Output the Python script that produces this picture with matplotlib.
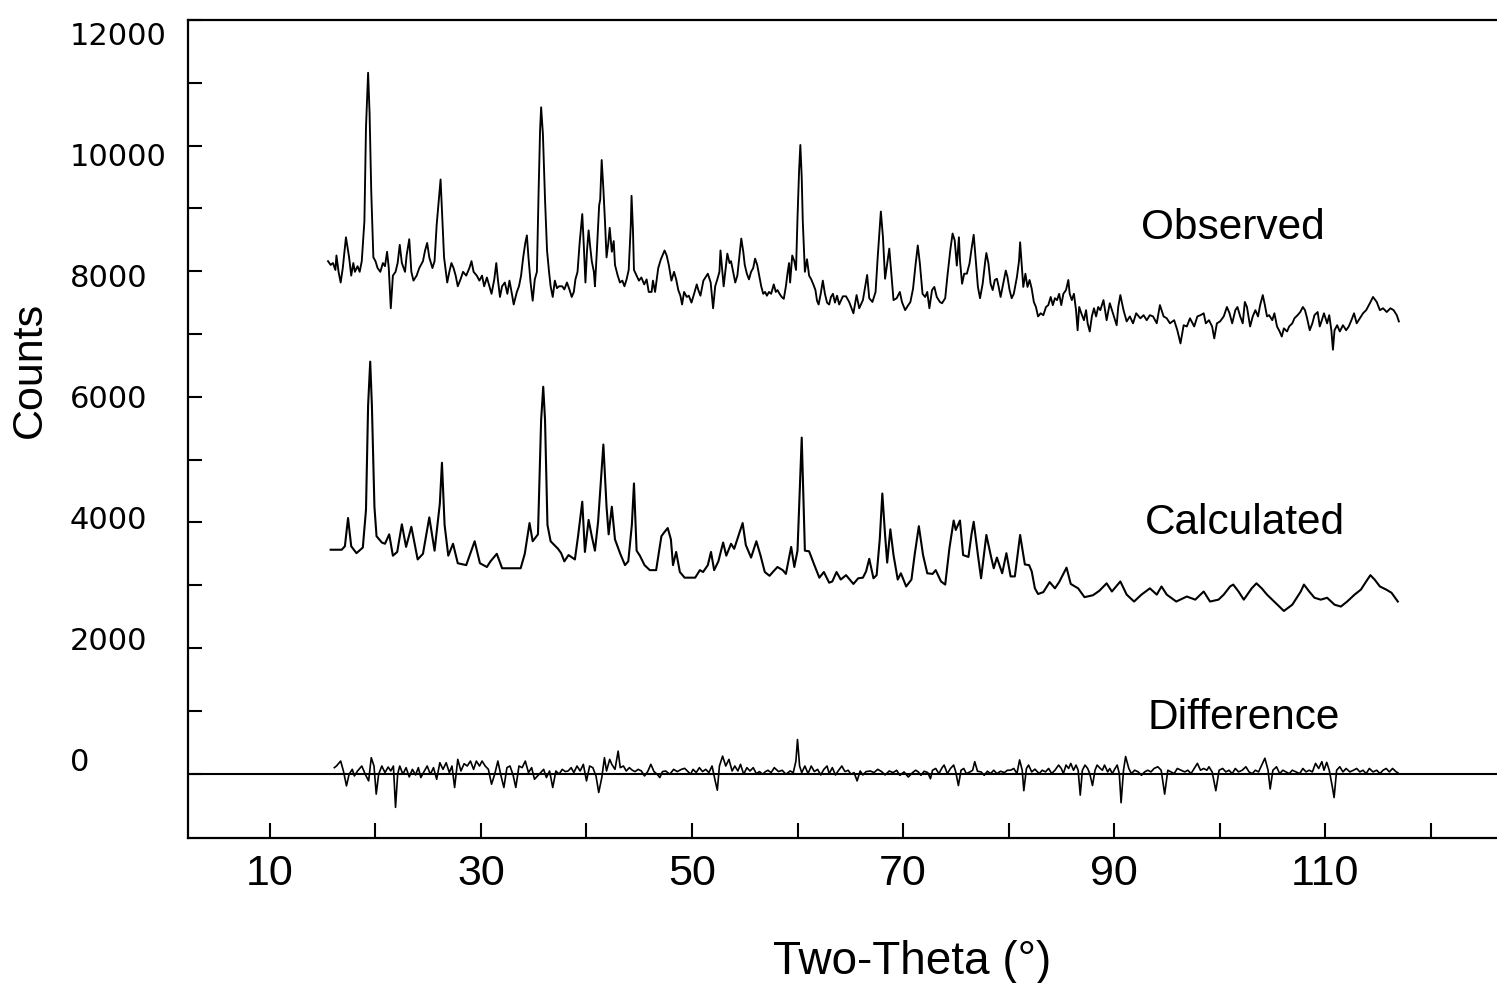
import numpy as np
import matplotlib
matplotlib.use('Agg')
import matplotlib.pyplot as plt
import matplotlib.transforms as mtransforms

# observed pattern (shifted up for display)
obs_2theta = [15.5, 15.75, 15.97, 16.2, 16.3, 16.5, 16.7, 16.9, 17.2, 17.5, 17.7, 17.9, 18.05, 18.3, 18.5, 18.7, 18.95, 19.1, 19.3, 19.44,
              19.6, 19.8, 20.0, 20.2, 20.46, 20.7, 20.9, 21.1, 21.26, 21.45, 21.65, 21.9, 22.1, 22.3, 22.5, 22.8, 22.95, 23.2, 23.4, 23.6,
              23.9, 24.15, 24.5, 24.7, 24.9, 25.1, 25.4, 25.6, 25.8, 26.0, 26.17, 26.3, 26.5, 26.8, 27.0, 27.2, 27.4, 27.6, 27.8, 28.06,
              28.3, 28.6, 28.9, 29.1, 29.3, 29.6, 29.85, 30.1, 30.3, 30.56, 30.8, 31.0, 31.26, 31.45, 31.6, 31.8, 32.0, 32.26, 32.5, 32.7,
              32.96, 33.1, 33.4, 33.6, 33.8, 34.0, 34.2, 34.35, 34.5, 34.7, 34.9, 35.1, 35.3, 35.46, 35.6, 35.7, 35.87, 36.07, 36.26, 36.45,
              36.6, 36.8, 37.0, 37.2, 37.4, 37.7, 37.9, 38.15, 38.4, 38.6, 38.8, 38.95, 39.15, 39.35, 39.6, 39.75, 39.9, 40.05, 40.2, 40.35,
              40.5, 40.7, 40.8, 40.97, 41.2, 41.3, 41.44, 41.6, 41.75, 41.9, 42.07, 42.2, 42.4, 42.58, 42.7, 42.96, 43.17, 43.4, 43.6, 43.8,
              44.0, 44.2, 44.27, 44.4, 44.5, 44.75, 44.97, 45.2, 45.47, 45.7, 45.9, 46.17, 46.3, 46.5, 46.8, 47.05, 47.27, 47.4, 47.6, 47.8,
              48.05, 48.3, 48.5, 48.7, 48.9, 49.06, 49.25, 49.5, 49.7, 49.95, 50.2, 50.45, 50.6, 50.8, 51.08, 51.27, 51.5, 51.77, 52.0, 52.2,
              52.4, 52.6, 52.7, 52.85, 53.0, 53.2, 53.35, 53.56, 53.7, 53.9, 54.1, 54.3, 54.48, 54.67, 54.86, 55.0, 55.2, 55.4, 55.6, 55.8,
              55.98, 56.18, 56.37, 56.56, 56.75, 56.93, 57.1, 57.3, 57.5, 57.75, 57.94, 58.1, 58.3, 58.5, 58.7, 58.9, 59.07, 59.2, 59.3, 59.5,
              59.7, 59.86, 60.0, 60.15, 60.27, 60.4, 60.5, 60.7, 60.9, 61.1, 61.3, 61.5, 61.7, 61.85, 62.0, 62.2, 62.4, 62.6, 62.8, 63.0,
              63.17, 63.36, 63.55, 63.75, 63.95, 64.3, 64.6, 64.9, 65.3, 65.6, 65.85, 66.2, 66.6, 66.8, 67.1, 67.4, 67.6, 67.8, 67.9, 68.1,
              68.3, 68.5, 68.7, 68.9, 69.1, 69.4, 69.7, 69.9, 70.2, 70.5, 70.7, 70.95, 71.2, 71.4, 71.6, 71.85, 72.1, 72.3, 72.5, 72.75,
              72.97, 73.2, 73.5, 73.7, 74.0, 74.2, 74.5, 74.7, 74.9, 75.1, 75.3, 75.4, 75.6, 75.8, 76.05, 76.3, 76.5, 76.7, 76.9, 77.1,
              77.3, 77.55, 77.8, 77.9, 78.1, 78.3, 78.5, 78.7, 78.9, 79.07, 79.25, 79.5, 79.74, 79.9, 80.1, 80.3, 80.5, 80.8, 81.0, 81.1,
              81.27, 81.4, 81.6, 81.8, 82.0, 82.2, 82.4, 82.6, 82.8, 83.05, 83.3, 83.55, 83.77, 84.0, 84.2, 84.4, 84.6, 84.8, 85.0, 85.2,
              85.45, 85.67, 85.8, 86.0, 86.2, 86.4, 86.55, 86.7, 86.9, 87.15, 87.35, 87.5, 87.7, 87.9, 88.1, 88.3, 88.5, 88.7, 89.0, 89.3,
              89.6, 89.9, 90.25, 90.4, 90.6, 90.9, 91.2, 91.5, 91.8, 92.1, 92.5, 92.8, 93.1, 93.4, 93.7, 94.05, 94.35, 94.7, 95.0, 95.3,
              95.7, 96.0, 96.3, 96.6, 96.9, 97.2, 97.6, 97.9, 98.2, 98.5, 98.7, 99.0, 99.3, 99.5, 99.75, 100.05, 100.4, 100.7, 100.95, 101.2,
              101.5, 101.7, 101.96, 102.2, 102.4, 102.6, 102.9, 103.15, 103.4, 103.65, 103.85, 104.1, 104.3, 104.5, 104.7, 105.0, 105.2, 105.45, 105.7, 105.9,
              106.1, 106.4, 106.6, 106.9, 107.1, 107.4, 107.65, 107.9, 108.1, 108.3, 108.55, 108.8, 109.0, 109.3, 109.5, 109.7, 109.9, 110.2, 110.4, 110.6,
              110.75, 110.9, 111.15, 111.4, 111.7, 112.0, 112.25, 112.5, 112.75, 113.0, 113.3, 113.6, 113.9, 114.25, 114.55, 114.9, 115.2, 115.5, 115.85, 116.2,
              116.5, 116.8, 117.0]
obs_counts = [8160, 8100, 8130, 8020, 8250, 7990, 7820, 8050, 8540, 8220, 7930, 8130, 7990, 8080, 7990, 8160, 8800, 10290, 11160, 10520,
              9260, 8220, 8160, 8050, 7990, 8130, 8080, 8310, 8050, 7410, 7930, 7990, 8130, 8420, 8130, 7990, 8250, 8510, 7990, 7850,
              7930, 8050, 8160, 8330, 8450, 8220, 8050, 8160, 8740, 9140, 9460, 8970, 8220, 7820, 7990, 8130, 8050, 7930, 7760, 7870,
              7990, 7930, 8050, 8160, 7990, 7930, 7850, 7930, 7760, 7900, 7760, 7640, 7870, 8130, 7870, 7590, 7760, 7820, 7640, 7850,
              7610, 7470, 7670, 7760, 7930, 8220, 8450, 8570, 8220, 7820, 7530, 7870, 7990, 9260, 10240, 10610, 10180, 9140, 8330, 7990,
              7760, 7590, 7850, 7730, 7760, 7760, 7710, 7820, 7700, 7590, 7670, 7870, 7990, 8450, 8910, 8390, 7820, 8330, 8650, 8390,
              8160, 7990, 7760, 8280, 9050, 9140, 9770, 9310, 8800, 8220, 8450, 8690, 8310, 8480, 8100, 7930, 7820, 7850, 7760, 7870,
              8020, 8740, 9200, 8680, 8020, 7930, 7850, 7900, 7790, 7870, 7670, 7670, 7850, 7670, 8050, 8190, 8280, 8330, 8250, 8100,
              7850, 7990, 7870, 7700, 7610, 7470, 7670, 7590, 7610, 7500, 7640, 7790, 7700, 7610, 7850, 7900, 7960, 7820, 7410, 7760,
              7870, 7990, 8330, 8050, 7760, 8050, 8280, 8130, 8160, 7990, 7820, 7930, 8220, 8520, 8310, 8100, 7960, 7870, 7990, 8050,
              8200, 8100, 7930, 7760, 7640, 7670, 7610, 7670, 7640, 7790, 7670, 7700, 7640, 7590, 7560, 7760, 7990, 8130, 7820, 8250,
              8160, 8020, 8850, 9600, 10010, 9490, 8800, 7990, 8190, 7930, 7870, 7790, 7700, 7530, 7470, 7640, 7850, 7640, 7500, 7470,
              7590, 7640, 7500, 7610, 7470, 7600, 7600, 7510, 7330, 7620, 7410, 7540, 7940, 7570, 7510, 7670, 8220, 8700, 8950, 8540,
              7880, 8120, 8360, 7960, 7540, 7570, 7670, 7510, 7380, 7460, 7510, 7720, 8120, 8410, 8120, 7640, 7590, 7670, 7410, 7700,
              7750, 7590, 7510, 7490, 7570, 7910, 8360, 8600, 8490, 8090, 8540, 8170, 7800, 7960, 7960, 8120, 8360, 8580, 8170, 7750,
              7570, 7800, 8170, 8290, 8120, 7800, 7700, 7860, 7880, 7750, 7590, 7800, 8010, 7910, 7700, 7570, 7640, 7910, 8170, 8460,
              8070, 7750, 7960, 7750, 7860, 7720, 7510, 7430, 7280, 7330, 7300, 7430, 7460, 7590, 7460, 7570, 7540, 7640, 7460, 7640,
              7700, 7860, 7640, 7540, 7640, 7380, 7060, 7430, 7330, 7220, 7380, 7170, 7040, 7280, 7410, 7280, 7430, 7380, 7540, 7220,
              7490, 7330, 7140, 7430, 7620, 7380, 7200, 7280, 7170, 7330, 7250, 7300, 7220, 7300, 7280, 7170, 7460, 7280, 7250, 7170,
              7220, 7060, 6850, 7140, 7120, 7250, 7120, 7280, 7300, 7330, 7170, 7220, 7120, 6930, 7170, 7200, 7280, 7430, 7330, 7170,
              7380, 7430, 7280, 7170, 7510, 7430, 7120, 7280, 7380, 7280, 7460, 7620, 7460, 7280, 7300, 7220, 7330, 7120, 7040, 6960,
              7090, 7040, 7120, 7170, 7250, 7300, 7350, 7430, 7380, 7250, 7060, 7170, 7300, 7350, 7120, 7220, 7330, 7170, 7300, 7060,
              6750, 7060, 7140, 7040, 7140, 7060, 7120, 7220, 7330, 7170, 7250, 7330, 7380, 7490, 7590, 7510, 7380, 7410, 7350, 7410,
              7380, 7300, 7200]

# calculated pattern
calc_2theta = [15.75, 16.8, 17.1, 17.4, 17.7, 18.2, 18.8, 19.1, 19.3, 19.5, 19.66, 19.9, 20.1, 20.6, 20.9, 21.3, 21.65, 22.06, 22.5, 22.9,
               23.4, 24.0, 24.5, 25.1, 25.6, 26.1, 26.3, 26.55, 26.9, 27.35, 27.8, 28.6, 29.4, 29.9, 30.56, 30.9, 31.5, 32.0, 33.76, 34.15,
               34.6, 34.9, 35.4, 35.7, 35.9, 36.07, 36.3, 36.6, 37.3, 37.6, 37.9, 38.3, 38.9, 39.2, 39.6, 39.85, 40.2, 40.5, 40.8, 41.1,
               41.6, 41.9, 42.1, 42.4, 42.7, 43.2, 43.65, 43.96, 44.3, 44.5, 44.75, 45.06, 45.5, 46.0, 46.6, 47.1, 47.36, 47.7, 48.0, 48.2,
               48.5, 48.85, 49.3, 50.3, 50.75, 51.05, 51.5, 51.8, 52.1, 52.5, 52.95, 53.25, 53.7, 54.0, 54.35, 54.8, 55.1, 55.6, 56.1, 56.5,
               56.9, 57.35, 57.66, 58.1, 58.6, 58.9, 59.4, 59.7, 60.0, 60.4, 60.7, 61.1, 61.6, 62.07, 62.5, 63.0, 63.3, 63.7, 64.1, 64.6,
               65.3, 65.75, 66.2, 66.5, 66.8, 67.2, 67.5, 67.8, 68.04, 68.3, 68.5, 68.8, 69.1, 69.5, 69.8, 70.3, 70.8, 71.1, 71.5, 71.9,
               72.3, 72.8, 73.1, 73.6, 74.0, 74.4, 74.8, 75.0, 75.4, 75.7, 76.2, 76.5, 76.7, 77.1, 77.4, 77.9, 78.35, 78.6, 78.9, 79.4,
               79.8, 80.2, 80.6, 81.1, 81.55, 81.95, 82.2, 82.5, 82.8, 83.3, 83.9, 84.4, 84.8, 85.5, 85.9, 86.6, 87.2, 88.0, 88.6, 89.3,
               89.8, 90.6, 91.2, 91.9, 92.6, 93.4, 94.05, 94.5, 95.0, 95.9, 96.9, 97.7, 98.5, 99.1, 99.9, 100.4, 101.0, 101.3, 101.8, 102.3,
               103.05, 103.5, 104.0, 104.5, 105.3, 106.1, 106.9, 107.7, 108.0, 108.5, 109.0, 109.6, 110.2, 110.9, 111.5, 112.1, 112.8, 113.4, 113.9, 114.3,
               114.7, 115.2, 115.8, 116.3, 116.9]
calc_counts = [3565, 3565, 3620, 4070, 3620, 3510, 3600, 4200, 5860, 6560, 5860, 4250, 3780, 3680, 3660, 3810, 3470, 3530, 3970, 3610,
               3930, 3410, 3500, 4080, 3550, 4300, 4950, 3960, 3470, 3660, 3350, 3320, 3700, 3350, 3290, 3380, 3500, 3270, 3270, 3500,
               3990, 3700, 3810, 5630, 6160, 5630, 3960, 3700, 3580, 3510, 3380, 3480, 3410, 3780, 4330, 3530, 4040, 3780, 3550, 4010,
               5240, 4250, 3810, 4250, 3730, 3500, 3320, 3380, 3960, 4620, 3550, 3470, 3320, 3240, 3240, 3780, 3840, 3910, 3730, 3320,
               3530, 3210, 3120, 3120, 3240, 3210, 3320, 3530, 3240, 3380, 3680, 3470, 3660, 3580, 3760, 3990, 3640, 3440, 3700, 3470,
               3210, 3150, 3210, 3290, 3240, 3180, 3610, 3290, 3550, 5350, 3550, 3540, 3320, 3120, 3210, 3040, 3060, 3210, 3090, 3160,
               3020, 3110, 3120, 3220, 3420, 3110, 3160, 3740, 4460, 3800, 3360, 3890, 3480, 3090, 3190, 2980, 3090, 3480, 3940, 3480,
               3190, 3180, 3240, 3060, 3010, 3590, 4030, 3880, 4030, 3480, 3450, 3820, 4010, 3480, 3110, 3800, 3450, 3270, 3440, 3190,
               3510, 3140, 3140, 3800, 3330, 3320, 3220, 2950, 2860, 2890, 3050, 2950, 3050, 3280, 3020, 2950, 2810, 2840, 2910, 3030,
               2900, 3060, 2850, 2740, 2850, 2950, 2850, 2980, 2850, 2740, 2820, 2770, 2900, 2740, 2770, 2850, 2980, 3010, 2900, 2770,
               2950, 3030, 2950, 2850, 2720, 2590, 2690, 2900, 3010, 2900, 2800, 2770, 2800, 2690, 2660, 2740, 2850, 2930, 3060, 3160,
               3090, 2980, 2930, 2880, 2740]

# difference curve (observed - calculated)
diff_2theta = [16.1, 16.3, 16.7, 16.96, 17.25, 17.5, 17.8, 18.0, 18.3, 18.7, 19.06, 19.35, 19.6, 19.86, 20.07, 20.3, 20.6, 20.9, 21.2, 21.45,
               21.7, 21.9, 22.1, 22.3, 22.6, 22.9, 23.2, 23.5, 23.8, 24.06, 24.3, 24.6, 24.9, 25.2, 25.5, 25.8, 26.1, 26.4, 26.7, 27.0,
               27.25, 27.5, 27.8, 28.1, 28.4, 28.7, 29.0, 29.3, 29.56, 29.86, 30.1, 30.4, 30.7, 31.0, 31.3, 31.6, 31.9, 32.17, 32.46, 32.75,
               33.04, 33.3, 33.6, 33.9, 34.2, 34.5, 34.8, 35.07, 35.36, 35.65, 35.94, 36.2, 36.5, 36.8, 37.1, 37.4, 37.7, 38.0, 38.26, 38.55,
               38.8, 39.1, 39.4, 39.7, 40.0, 40.3, 40.6, 40.9, 41.16, 41.45, 41.7, 41.9, 42.2, 42.4, 42.7, 43.0, 43.2, 43.5, 43.77, 44.06,
               44.35, 44.6, 44.9, 45.2, 45.5, 45.8, 46.1, 46.4, 46.7, 46.95, 47.2, 47.5, 47.9, 48.26, 48.6, 49.0, 49.3, 49.56, 49.86, 50.1,
               50.4, 50.7, 51.0, 51.3, 51.6, 51.9, 52.2, 52.4, 52.6, 52.9, 53.2, 53.5, 53.8, 54.06, 54.35, 54.6, 54.9, 55.2, 55.5, 55.8,
               56.1, 56.4, 56.7, 56.96, 57.2, 57.5, 57.8, 58.2, 58.55, 58.9, 59.3, 59.6, 59.85, 60.0, 60.2, 60.4, 60.7, 61.0, 61.3, 61.6,
               61.9, 62.2, 62.5, 62.8, 63.0, 63.3, 63.6, 63.9, 64.2, 64.5, 64.8, 65.07, 65.36, 65.65, 65.94, 66.2, 66.5, 66.9, 67.25, 67.6,
               67.97, 68.3, 68.7, 69.06, 69.4, 69.7, 70.1, 70.5, 70.9, 71.2, 71.45, 71.7, 72.0, 72.35, 72.6, 72.8, 73.1, 73.4, 73.7, 73.9,
               74.2, 74.5, 74.8, 75.0, 75.25, 75.5, 75.76, 76.0, 76.35, 76.6, 76.8, 77.06, 77.4, 77.7, 78.0, 78.3, 78.6, 78.9, 79.25, 79.6,
               79.9, 80.2, 80.5, 80.8, 81.05, 81.3, 81.45, 81.7, 81.9, 82.2, 82.5, 82.9, 83.2, 83.5, 83.8, 84.1, 84.4, 84.75, 85.0, 85.2,
               85.45, 85.7, 85.9, 86.16, 86.4, 86.6, 86.8, 87.0, 87.25, 87.5, 87.7, 87.96, 88.2, 88.4, 88.7, 88.9, 89.1, 89.4, 89.6, 89.84,
               90.1, 90.3, 90.5, 90.67, 90.9, 91.1, 91.4, 91.65, 91.96, 92.3, 92.6, 92.9, 93.2, 93.5, 93.8, 94.15, 94.47, 94.8, 95.1, 95.4,
               95.7, 96.0, 96.35, 96.7, 97.0, 97.3, 97.6, 97.9, 98.2, 98.5, 98.8, 99.0, 99.3, 99.65, 99.96, 100.3, 100.6, 100.9, 101.2, 101.5,
               101.8, 102.15, 102.5, 102.8, 103.1, 103.4, 103.7, 104.0, 104.3, 104.6, 104.8, 105.06, 105.4, 105.7, 106.0, 106.3, 106.6, 106.9, 107.25, 107.6,
               107.9, 108.2, 108.5, 108.8, 109.1, 109.4, 109.7, 109.9, 110.16, 110.4, 110.7, 110.86, 111.1, 111.4, 111.7, 112.0, 112.35, 112.7, 113.0, 113.3,
               113.6, 113.9, 114.2, 114.55, 114.9, 115.2, 115.5, 115.8, 116.1, 116.4, 116.75, 116.9]
diff_counts = [95, 121, 200, 42, -195, -10, 68, -37, 42, 121, -21, -116, 253, 121, -327, -10, 121, 16, 105, 42,
               121, -537, -10, 121, -10, 95, -53, 68, -21, 95, -63, 32, 121, -10, 95, -90, 174, 68, 174, 16,
               121, -221, 227, 42, 158, 121, 200, 68, 200, 121, 200, 121, 68, -169, -10, 200, -37, -221, 95, 121,
               -21, -221, 121, 95, 200, 16, 95, -90, -37, 16, 68, -63, 42, -221, 42, -10, 68, 32, 42, 95,
               16, 121, 42, 148, -116, 121, 95, -37, -300, -63, 253, 42, 227, 148, 68, 358, 95, 121, 42, 95,
               53, 32, 68, 42, -37, 32, 148, 32, -10, -63, 32, 42, -10, 68, 32, 68, 84, 42, -10, 68,
               16, 95, 32, 68, 16, 121, -116, -264, 121, 279, 121, 227, 42, 121, 42, 148, -10, 95, 42, 95,
               0, 32, -10, 32, 53, 16, 95, 32, 53, -10, 42, 16, 200, 543, 121, 16, 121, 0, 121, 32,
               68, -21, 68, 121, 0, 95, -21, 53, 121, 32, 53, -10, 16, -116, 42, -21, 32, 42, 16, 68,
               32, -21, 42, 16, 53, -27, 27, -54, 16, 54, 27, -27, 38, 16, -82, 54, 82, 0, 93, 136,
               0, 82, 136, 27, -190, 54, 82, 0, 27, 54, 190, 38, 27, -27, 38, 0, 54, 0, 38, 16,
               54, 54, 82, 0, 218, 54, -272, 82, 136, 27, 71, 0, 54, 27, 82, 0, 54, 136, 82, 0,
               136, 82, 163, 54, 136, 54, -343, 54, 136, 82, 0, -190, 54, 136, 82, 54, 136, 27, 82, 0,
               82, 136, 0, -463, 54, 272, 82, 0, 54, 27, -27, 27, 54, 27, 82, 109, 54, -327, 54, 27,
               0, 82, 54, 27, 54, 0, 82, 163, 54, 82, 54, 109, 27, -272, 54, 82, 27, 54, 0, 82,
               27, 54, 109, 27, 0, 54, 27, 136, 245, 54, -245, 54, 109, 0, 54, 27, 0, 54, 27, 0,
               82, 27, 54, 27, 163, 82, 190, 54, 180, 54, -218, -381, 54, 109, 27, 82, 27, 54, 82, 27,
               54, 0, 82, 27, 54, 0, 54, 82, 27, 82, 27, 16]

series_labels = ['Observed', 'Calculated', 'Difference']
label_2theta = [92.6, 92.9, 93.2]
label_counts = [8690, 3990, 880]

x_ticks = list(range(10, 121, 10))
x_ticklabels = ['10', '', '30', '', '50', '', '70', '', '90', '', '110', '']
y_ticks = list(range(0, 12001, 1000))
y_labelled = list(range(0, 12001, 2000))

sans = 'Liberation Sans'

fig = plt.figure(figsize=(14.97, 9.83), dpi=100)
ax = fig.add_axes([188 / 1497, 1 - 838.3 / 983, (1497 - 188) / 1497, (838.3 - 20) / 983])

ax.axhline(0, color='black', lw=1.5)
ax.plot(obs_2theta, obs_counts, color='black', lw=1.35)
ax.plot(calc_2theta, calc_counts, color='black', lw=1.5)
ax.plot(diff_2theta, diff_counts, color='black', lw=1.2)

for name, xx, yy in zip(series_labels, label_2theta, label_counts):
    ax.text(xx, yy, name, ha='left', va='center', fontsize=30.5, family=sans)

ax.set_xlim(2.23, 126.3)
ax.set_ylim(-1030, 12000)

ax.spines['right'].set_visible(False)
for s in ['left', 'bottom', 'top']:
    ax.spines[s].set_linewidth(1.6)

ax.set_xticks(x_ticks)
ax.set_xticklabels(x_ticklabels, fontsize=31, family=sans)
ax.tick_params(axis='x', direction='in', length=11, width=1.5, pad=11)

ax.set_yticks(y_ticks)
ax.tick_params(axis='y', direction='in', length=10, width=1.5, labelleft=False)
# the scanned labels drift slightly off their ticks; keep that look
trans = mtransforms.blended_transform_factory(ax.transAxes, ax.transData)
for v in y_labelled:
    ax.text(-0.0901, 183 + 0.9634 * v, str(v), transform=trans, ha='left', va='center',
            fontsize=22, family='DejaVu Sans')

ax.set_xlabel('Two-Theta (°)', fontsize=33, family=sans, va='center')
ax.xaxis.set_label_coords(0.553, -0.1512)
ax.set_ylabel('Counts', fontsize=31, family=sans, va='center')
ax.yaxis.set_label_coords(-0.1207, 0.572)

fig.savefig('out.png', dpi=100)
